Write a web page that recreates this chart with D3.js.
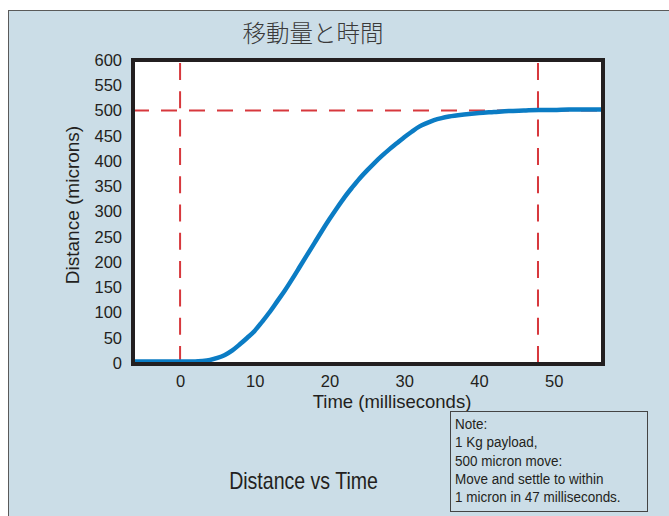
<!DOCTYPE html>
<html>
<head>
<meta charset="utf-8">
<script src="https://cdn.jsdelivr.net/npm/d3@7"></script>
<style>
body { margin: 0; background: #fff; }
</style>
</head>
<body>
<div id="chart-area"></div>
<script>
var width = 669;
var height = 516;

// data
var timeMs = [-6.3, 0, 2, 3, 4, 5, 6, 7, 8, 9, 10, 11, 12, 13, 14, 15, 16, 17, 18, 19, 20,
    21, 22, 23, 24, 25, 26, 27, 28, 29, 30, 31, 32, 33, 34, 35, 36, 38, 40, 42, 44, 46, 48, 50, 52, 54, 56.6];
var distance = [3, 3, 3, 4, 6, 10, 16, 25, 37, 50, 64, 82, 101, 122, 143, 166, 190, 214, 238, 262, 285,
    307, 328, 347, 365, 381, 396, 410, 423, 435, 447, 458, 468, 475, 481, 485, 488, 492, 495, 497, 499, 500, 501, 501, 502, 502, 502];
var xTicks = [0, 10, 20, 30, 40, 50];
var yTicks = [0, 50, 100, 150, 200, 250, 300, 350, 400, 450, 500, 550, 600];
var targetDistance = 500;
var markTimes = [0, 47.9];
var noteLines = ["Note:", "1 Kg payload,", "500 micron move:", "Move and settle to within", "1 micron in 47 milliseconds."];

var svg = d3.select("#chart-area").append("svg")
    .attr("width", width)
    .attr("height", height);

svg.append("rect")
    .attr("x", 8.5)
    .attr("y", 10.5)
    .attr("width", width)
    .attr("height", height)
    .attr("fill", "#cbdde7")
    .attr("stroke", "#5a5a5a")
    .attr("stroke-width", 1);

var x = d3.scaleLinear().domain([-6.3, 56.6]).range([133, 603]);
var y = d3.scaleLinear().domain([0, 600]).range([363, 60]);

// plot area
svg.append("rect")
    .attr("x", 133)
    .attr("y", 60)
    .attr("width", 470)
    .attr("height", 304)
    .attr("fill", "white");

svg.append("clipPath").attr("id", "clip")
    .append("rect").attr("x", 135).attr("y", 62).attr("width", 466).attr("height", 300);

var plot = svg.append("g").attr("clip-path", "url(#clip)");

plot.append("line")
    .attr("x1", 133).attr("x2", 603)
    .attr("y1", y(targetDistance)).attr("y2", y(targetDistance))
    .attr("stroke", "#d7383d")
    .attr("stroke-width", 2)
    .attr("stroke-dasharray", "16,12");

plot.selectAll(".vmark").data(markTimes).enter().append("line")
    .attr("class", "vmark")
    .attr("x1", d => x(d)).attr("x2", d => x(d))
    .attr("y1", 63).attr("y2", 363)
    .attr("stroke", "#d7383d")
    .attr("stroke-width", 2)
    .attr("stroke-dasharray", "17,11.3");

var line = d3.line()
    .x(d => x(d[0]))
    .y(d => y(d[1]))
    .curve(d3.curveMonotoneX);

plot.append("path")
    .datum(timeMs.map((t, i) => [t, distance[i]]))
    .attr("d", line)
    .attr("fill", "none")
    .attr("stroke", "#0b7cc4")
    .attr("stroke-width", 4.5);

svg.append("rect")
    .attr("x", 133)
    .attr("y", 60)
    .attr("width", 470)
    .attr("height", 304)
    .attr("fill", "none")
    .attr("stroke", "#231f20")
    .attr("stroke-width", 4);

// axes
var xAxis = svg.append("g")
    .attr("transform", "translate(0,366)")
    .call(d3.axisBottom(x).tickValues(xTicks).tickSize(0).tickPadding(9));
var yAxis = svg.append("g")
    .attr("transform", "translate(131,0)")
    .call(d3.axisLeft(y).tickValues(yTicks).tickSize(0).tickPadding(9));

[xAxis, yAxis].forEach(a => {
    a.select(".domain").remove();
    a.selectAll("text")
        .attr("fill", "#231f20")
        .style("font-family", "'Liberation Sans', Arial, sans-serif")
        .style("font-size", "16.5px");
});

svg.append("text")
    .attr("x", 392)
    .attr("y", 408)
    .attr("text-anchor", "middle")
    .attr("fill", "#231f20")
    .style("font-family", "'Liberation Sans', Arial, sans-serif")
    .style("font-size", "18.5px")
    .text("Time (milliseconds)");

svg.append("text")
    .attr("transform", "translate(79,205) rotate(-90)")
    .attr("text-anchor", "middle")
    .attr("fill", "#231f20")
    .style("font-family", "'Liberation Sans', Arial, sans-serif")
    .style("font-size", "19px")
    .text("Distance (microns)");

svg.append("text")
    .attr("x", 313)
    .attr("y", 42)
    .attr("text-anchor", "middle")
    .attr("fill", "#3a3a3a")
    .style("font-family", "'Noto Sans CJK JP', sans-serif")
    .style("font-weight", "300")
    .style("font-size", "23.5px")
    .text("移動量と時間");

svg.append("text")
    .attr("transform", "translate(303.5,489) scale(0.85,1)")
    .attr("text-anchor", "middle")
    .attr("fill", "#231f20")
    .style("font-family", "'Liberation Sans', Arial, sans-serif")
    .style("font-size", "23px")
    .text("Distance vs Time");

// note box
svg.append("rect")
    .attr("x", 450.5)
    .attr("y", 411.5)
    .attr("width", 197)
    .attr("height", 100)
    .attr("fill", "none")
    .attr("stroke", "#444")
    .attr("stroke-width", 1);

svg.selectAll(".note").data(noteLines).enter().append("text")
    .attr("class", "note")
    .attr("transform", (d, i) => "translate(455," + (429 + i * 18.3) + ") scale(0.93,1)")
    .attr("fill", "#231f20")
    .style("font-family", "'Liberation Sans', Arial, sans-serif")
    .style("font-size", "14.5px")
    .text(d => d);
</script>
</body>
</html>
